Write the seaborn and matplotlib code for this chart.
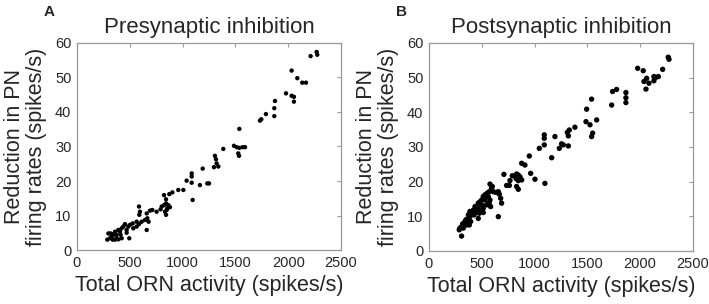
import numpy as np
import pandas as pd
import seaborn as sns
import matplotlib.pyplot as plt

# panel A: presynaptic inhibition
pre_x = [2212, 2269, 2275, 2032, 2086, 2133, 2168, 1979, 2032, 2054, 2054,
         1875, 1868, 1868, 1733, 1745, 1789, 1537, 1486, 1512, 1537, 1568, 1591,
         1527, 1534, 1385, 1306, 1316, 1322, 1338, 1297, 1190, 1250, 1234, 1164,
         1086, 1086, 1086, 1095, 1038, 1007, 959, 903, 874, 824, 843, 843, 865, 880,
         824, 802, 849, 833, 855, 843, 792, 754, 713, 691, 660, 666, 644, 678,
         587, 596, 590, 612, 565, 587, 660, 527, 502, 486, 454, 439, 470, 423, 407, 391,
         495, 360, 344, 328, 375, 297, 312, 287, 338, 360, 375, 391, 413, 423, 470,
         318, 328, 533, 565]
pre_y = [56.2, 57.4, 56.6, 52.0, 49.8, 48.5, 48.5, 45.4, 44.7, 44.4, 43.0,
         43.2, 41.1, 38.8, 37.5, 37.9, 39.4, 35.1, 30.2, 29.8, 29.6, 29.8, 29.8,
         28.0, 27.3, 29.3, 27.3, 26.3, 25.1, 24.2, 24.0, 23.6, 19.3, 19.3, 18.8,
         22.2, 21.3, 19.5, 14.5, 20.1, 17.4, 17.4, 16.7, 16.2, 15.9, 14.7, 13.5, 13.0, 12.4,
         13.0, 12.6, 11.6, 11.1, 12.1, 10.2, 11.8, 11.1, 11.6, 11.4, 10.6, 9.2, 8.7, 8.2,
         12.6, 11.1, 10.2, 8.2, 8.2, 7.5, 5.8, 7.7, 7.3, 6.8, 7.5, 6.8, 5.8, 6.3, 5.3, 5.8,
         3.4, 5.3, 4.4, 3.9, 4.4, 4.8, 3.4, 3.0, 3.0, 3.0, 3.4, 3.1, 4.4, 3.4, 5.0,
         4.8, 4.6, 6.3, 6.8]

# panel B: postsynaptic inhibition
post_x = [2266, 2273, 1976, 2029, 2213, 2036, 2061, 2083, 2055, 2130, 2149, 2172, 2130,
          1865, 1865, 1865, 1739, 1777, 1730, 1540, 1493, 1487, 1525, 1550, 1540, 1588,
          1382, 1329, 1310, 1320, 1320, 1234, 1256, 1272, 1193, 1162, 1092, 1092, 1092,
          1045, 1098, 1004, 963, 950, 878, 909, 830, 814, 846, 862, 824, 846, 878, 830, 846,
          789, 767, 710, 735, 761, 688, 679, 657, 666, 657, 635, 609, 593, 578, 600,
          571, 552, 530, 514, 530, 562, 578, 571, 546, 584, 499, 483, 467, 499, 514, 489,
          477, 514, 467, 467, 451, 436, 420, 414, 426, 388, 373, 388, 363, 351, 341, 332,
          319, 357, 309, 294, 287, 325, 309, 395, 382, 357]
post_y = [55.9, 55.3, 52.7, 52.0, 52.4, 48.9, 49.8, 48.4, 46.7, 50.3, 50.1, 50.3, 49.1,
          45.7, 44.2, 42.8, 46.0, 46.6, 42.1, 43.8, 40.9, 37.3, 36.4, 34.0, 33.0, 37.8,
          35.7, 34.9, 34.2, 33.2, 30.3, 29.6, 30.9, 30.6, 33.0, 26.9, 33.5, 32.5, 30.6,
          29.6, 19.5, 20.7, 22.4, 27.4, 25.3, 24.8, 22.2, 21.7, 21.9, 21.4, 20.9, 20.3, 20.5, 18.6, 17.8,
          21.7, 20.3, 22.1, 18.9, 18.9, 13.8, 15.2, 17.1, 16.4, 9.9, 16.9, 17.1, 18.1, 19.3, 18.6,
          17.1, 16.7, 16.2, 15.7, 14.7, 15.7, 14.7, 13.9, 13.3, 12.8, 14.7, 14.2, 13.8, 13.3, 12.3, 11.4,
          10.9, 11.1, 12.3, 9.4, 11.1, 12.8, 11.8, 11.1, 10.4, 11.4, 10.4, 9.9, 9.2, 9.0, 8.5, 8.0,
          7.8, 8.2, 7.0, 6.6, 6.1, 6.6, 4.3, 8.5, 7.5, 7.5]

titles = ["Presynaptic inhibition", "Postsynaptic inhibition"]
letters = ["A", "B"]
xticks = [0, 500, 1000, 1500, 2000, 2500]
yticks = [0, 10, 20, 30, 40, 50, 60]

sns.set_style("white")
plt.rcParams['font.family'] = ['Liberation Sans', 'DejaVu Sans']

fig = plt.figure(figsize=(7.09, 3.04), dpi=100)
ax_a = fig.add_axes([0.1086, 0.1776, 0.3724, 0.681])
ax_b = fig.add_axes([0.605, 0.1744, 0.3724, 0.6842])

panels = [(ax_a, pre_x, pre_y, 10), (ax_b, post_x, post_y, 15)]
for i, (ax, xs, ys, sz) in enumerate(panels):
    df = pd.DataFrame({"x": xs, "y": ys})
    sns.scatterplot(data=df, x="x", y="y", ax=ax, color="black", s=sz,
                    edgecolor="none", linewidth=0)
    ax.set_xlim(0, 2500)
    ax.set_ylim(0, 60)
    ax.set_xticks(xticks)
    ax.set_yticks(yticks)
    ax.tick_params(direction="in", length=3, width=0.8, color="#999999",
                   labelsize=10.5, top=True, right=True, pad=4)
    for sp in ax.spines.values():
        sp.set_color("#999999")
        sp.set_linewidth(0.9)
    ax.set_xlabel("Total ORN activity (spikes/s)", fontsize=15.5, labelpad=4)
    ax.set_ylabel("Reduction in PN\nfiring rates (spikes/s)", fontsize=15.5,
                  labelpad=6, linespacing=1.05)
    ax.set_title(titles[i], fontsize=16, pad=7)
    ax.text(-0.105, 1.15, letters[i], transform=ax.transAxes, fontsize=11,
            fontweight="bold", ha="center", va="center")

fig.savefig("out.png", dpi=100)
